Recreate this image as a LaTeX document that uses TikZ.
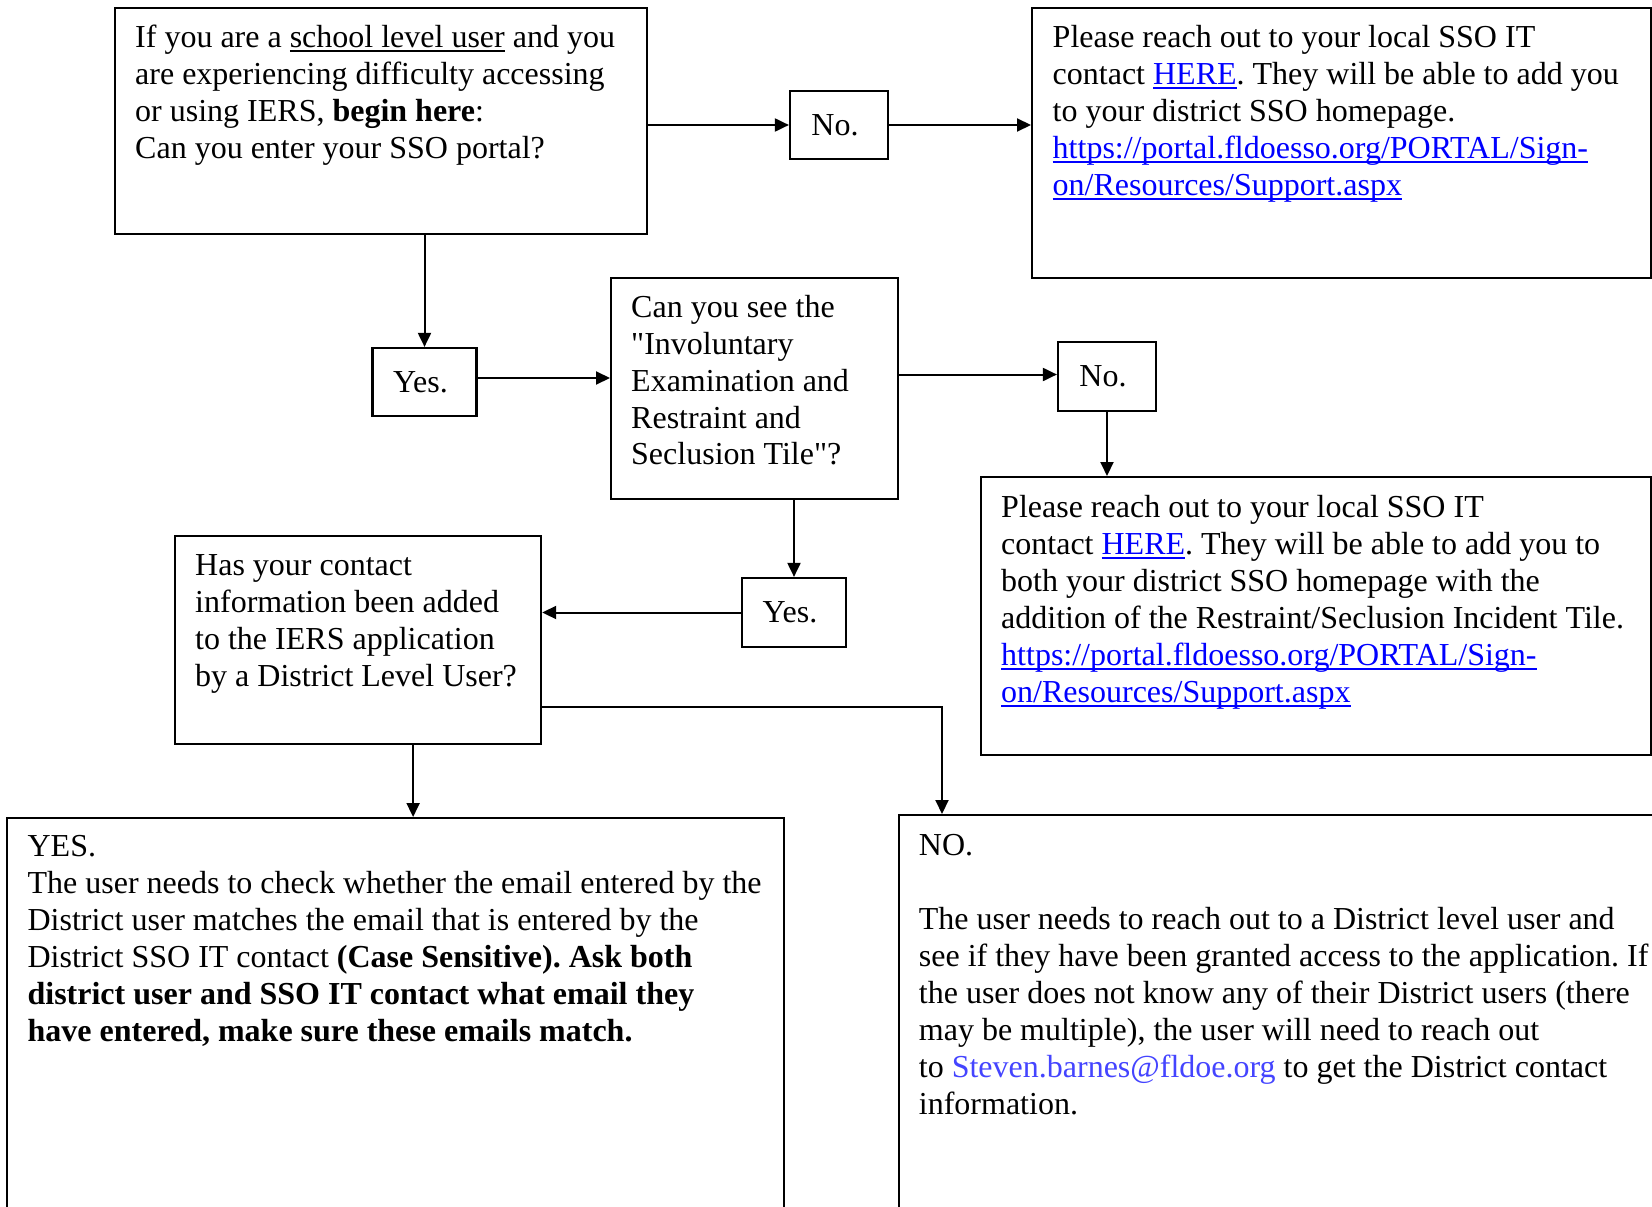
\documentclass[tikz,border=0pt]{standalone}
\usepackage{fontspec}
\setmainfont{Liberation Serif}[Ligatures=TeXOff]
\usetikzlibrary{arrows.meta}
\definecolor{linkblue}{RGB}{0,0,255}
\definecolor{mailblue}{RGB}{68,68,255}
\newcommand{\myul}[1]{\leavevmode\setbox0\hbox{#1}\rlap{\rule[-4.5pt]{\wd0}{2pt}}\box0{}}
\newcommand{\lnk}[1]{\leavevmode{\color{linkblue}\myul{#1}}}
\newcommand{\fixsp}{\spaceskip=0.25em\relax\xspaceskip=0.25em\relax}
\newcommand{\lft}{\hspace*{-8pt}}
\tikzset{
  box/.style={draw, line width=2.2pt, rectangle, inner sep=0pt, anchor=north west},
  txt/.style={anchor=north west, inner sep=0pt, align=left, text width=800pt, font=\fontsize{32}{36.9}\selectfont},
  small/.style={draw, line width=2.2pt, rectangle, inner sep=0pt, font=\fontsize{32}{36.9}\selectfont},
  arr/.style={line width=2pt, -{Triangle[length=14pt,width=13pt]}}
}
\begin{document}
\begin{tikzpicture}[x=1pt,y=-1pt]
\useasboundingbox (0,0) rectangle (1652,1207);
% boxes
\node[box, minimum width=532pt, minimum height=226pt] (A) at (114,7) {};
\node[small, minimum width=98pt, minimum height=68pt] (N1) at (839,125) {\lft No.};
\node[box, minimum width=619pt, minimum height=270pt] (B) at (1031,7) {};
\node[small, minimum width=104pt, minimum height=68pt] (Y1) at (424.5,382) {\lft Yes.};
\node[box, minimum width=287pt, minimum height=221pt] (C) at (610,277) {};
\node[small, minimum width=98pt, minimum height=69pt] (N2) at (1107,376.5) {\lft No.};
\node[box, minimum width=670pt, minimum height=278pt] (D) at (980,476) {};
\node[small, minimum width=104pt, minimum height=69pt] (Y2) at (794,612.5) {\lft Yes.};
\node[box, minimum width=366pt, minimum height=208pt] (E) at (174,535) {};
\node[box, minimum width=777pt, minimum height=450pt] (F) at (6,817) {};
\node[box, minimum width=800pt, minimum height=450pt] (G) at (898,814) {};
% texts
\node[txt] (tA) at (135,21.6) {\fixsp\noindent\strut If you are a \myul{school level user} and you\\
are experiencing difficulty accessing\\
or using IERS, \textbf{begin here}:\\
Can you enter your SSO portal?};
\node[txt] (tB) at (1052.5,21.6) {\fixsp\noindent\strut Please reach out to your local SSO IT\\
contact \lnk{HERE}. They will be able to add you\\
to your district SSO homepage.\\
\lnk{https://portal.fldoesso.org/PORTAL/Sign-}\\
\lnk{on/Resources/Support.aspx}};
\node[txt] (tC) at (631,291.3) {\fixsp\noindent\strut Can you see the\\
"Involuntary\\
Examination and\\
Restraint and\\
Seclusion Tile"?};
\node[txt] (tD) at (1001,491.5) {\fixsp\noindent\strut Please reach out to your local SSO IT\\
contact \lnk{HERE}. They will be able to add you to\\
both your district SSO homepage with the\\
addition of the Restraint/Seclusion Incident Tile.\\
\lnk{https://portal.fldoesso.org/PORTAL/Sign-}\\
\lnk{on/Resources/Support.aspx}};
\node[txt] (tE) at (195,549.5) {\fixsp\noindent\strut Has your contact\\
information been added\\
to the IERS application\\
by a District Level User?};
\node[txt] (tF) at (27.4,830.8) {\fixsp\noindent\strut YES.\\
The user needs to check whether the email entered by the\\
District user matches the email that is entered by the\\
District SSO IT contact \textbf{(Case Sensitive). Ask both}\\
\textbf{district user and SSO IT contact what email they}\\
\textbf{have entered, make sure these emails match.}};
\node[txt] (tG) at (918.7,829.7) {\fixsp\noindent\strut NO.\\[36.9pt]
The user needs to reach out to a District level user and\\
see if they have been granted access to the application. If\\
the user does not know any of their District users (there\\
may be multiple), the user will need to reach out\\
to {\color{mailblue}Steven.barnes@fldoe.org} to get the District contact\\
information.};
% connectors
\draw[arr] (N1.west -| A.east) -- (N1.west);
\draw[arr] (N1.east) -- (N1.east -| B.west);
\draw[arr] (Y1.north |- A.south) -- (Y1.north);
\draw[arr] ([yshift=4pt]Y1.east) -- ([yshift=4pt]Y1.east -| C.west);
\draw[arr] ([yshift=2pt]N2.west -| C.east) -- ([yshift=2pt]N2.west);
\draw[arr] (N2.south) -- (N2.south |- D.north);
\draw[arr] (Y2.north |- C.south) -- (Y2.north);
\draw[arr] (Y2.west) -- (Y2.west -| E.east);
\draw[arr] ([xshift=55pt]E.south) -- ([xshift=55pt]E.south |- F.north);
\draw[arr] ([yshift=38pt]E.south east) -| ([xshift=44pt]G.north west);
\end{tikzpicture}
\end{document}
